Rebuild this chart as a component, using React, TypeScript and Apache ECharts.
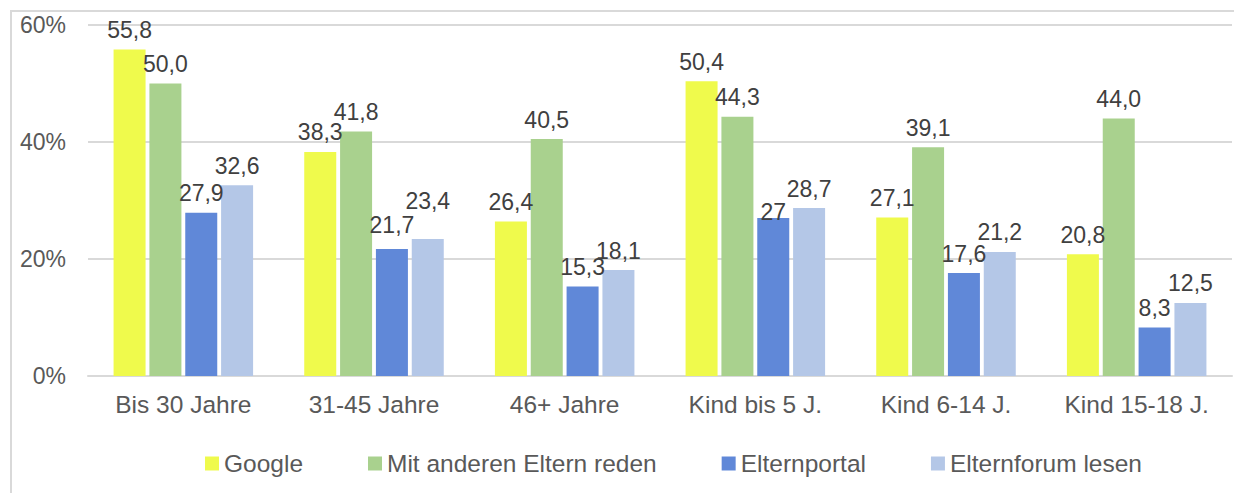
import React, { useEffect, useRef } from "react";
import * as echarts from "echarts";

const categories = ["Bis 30 Jahre", "31-45 Jahre", "46+ Jahre", "Kind bis 5 J.", "Kind 6-14 J.", "Kind 15-18 J."];
const seriesNames = ["Google", "Mit anderen Eltern reden", "Elternportal", "Elternforum lesen"];
const googleValues = [55.8, 38.3, 26.4, 50.4, 27.1, 20.8];
const elternValues = [50.0, 41.8, 40.5, 44.3, 39.1, 44.0];
const portalValues = [27.9, 21.7, 15.3, 27, 17.6, 8.3];
const forumValues = [32.6, 23.4, 18.1, 28.7, 21.2, 12.5];
const googleLabels = ["55,8", "38,3", "26,4", "50,4", "27,1", "20,8"];
const elternLabels = ["50,0", "41,8", "40,5", "44,3", "39,1", "44,0"];
const portalLabels = ["27,9", "21,7", "15,3", "27", "17,6", "8,3"];
const forumLabels = ["32,6", "23,4", "18,1", "28,7", "21,2", "12,5"];
const yTicks = [0, 20, 40, 60];
const colors = ["#EFFA4C", "#A9D18E", "#6088D8", "#B4C7E7"];

const FONT = "'Liberation Sans', Arial, sans-serif";

// per-label vertical nudges (series index, data index, dy) to mimic the reference's label placement
const labelNudges: [number, number, number][] = [
  [2, 1, -5],
  [3, 1, -19],
  [2, 3, 13],
];

export default function App() {
  const ref = useRef<HTMLDivElement>(null);
  useEffect(() => {
    if (!ref.current) return;
    const chart = echarts.init(ref.current, null, { renderer: "svg" });
    const allValues = [googleValues, elternValues, portalValues, forumValues];
    const allLabels = [googleLabels, elternLabels, portalLabels, forumLabels];
    const series = allValues.map((vals, si) => ({
      name: seriesNames[si],
      type: "bar",
      barWidth: 32,
      barGap: "12%",
      itemStyle: { color: colors[si] },
      label: {
        show: true,
        position: "top",
        distance: 8,
        fontFamily: FONT,
        fontSize: 23,
        color: "#404040",
        formatter: (p: any) => allLabels[si][p.dataIndex],
      },
      data: vals.map((v, i) => {
        const n = labelNudges.find((x) => x[0] === si && x[1] === i);
        return n ? { value: v, label: { offset: [0, n[2]] } } : v;
      }),
    }));
    chart.setOption({
      animation: false,
      backgroundColor: "#ffffff",
      textStyle: { fontFamily: FONT },
      graphic: [
        {
          type: "rect",
          shape: { x: 11, y: 11, width: 1400, height: 700 },
          style: { fill: "none", stroke: "#D9D9D9", lineWidth: 2 },
          silent: true,
        },
      ],
      grid: { left: 88, right: 2, top: 25, bottom: 117, containLabel: false },
      legend: {
        data: seriesNames,
        left: 200,
        top: 446,
        itemWidth: 14,
        itemHeight: 14,
        itemGap: 65,
        icon: "rect",
        textStyle: { fontFamily: FONT, fontSize: 24.5, color: "#595959" },
      },
      xAxis: {
        type: "category",
        data: categories,
        axisLine: { lineStyle: { color: "#D9D9D9", width: 2 } },
        axisTick: { show: false },
        axisLabel: { fontFamily: FONT, fontSize: 24.5, color: "#595959", margin: 16 },
      },
      yAxis: {
        type: "value",
        min: yTicks[0],
        max: yTicks[yTicks.length - 1],
        interval: 20,
        axisLine: { show: false },
        axisTick: { show: false },
        splitLine: { lineStyle: { color: "#D9D9D9", width: 2 } },
        axisLabel: {
          fontFamily: FONT,
          fontSize: 23,
          color: "#595959",
          margin: 22,
          formatter: "{value}%",
        },
      },
      series,
    });
    return () => chart.dispose();
  }, []);
  return (
    <div
      ref={ref}
      style={{ position: "fixed", left: 0, top: 0, width: 1234, height: 493 }}
    />
  );
}
